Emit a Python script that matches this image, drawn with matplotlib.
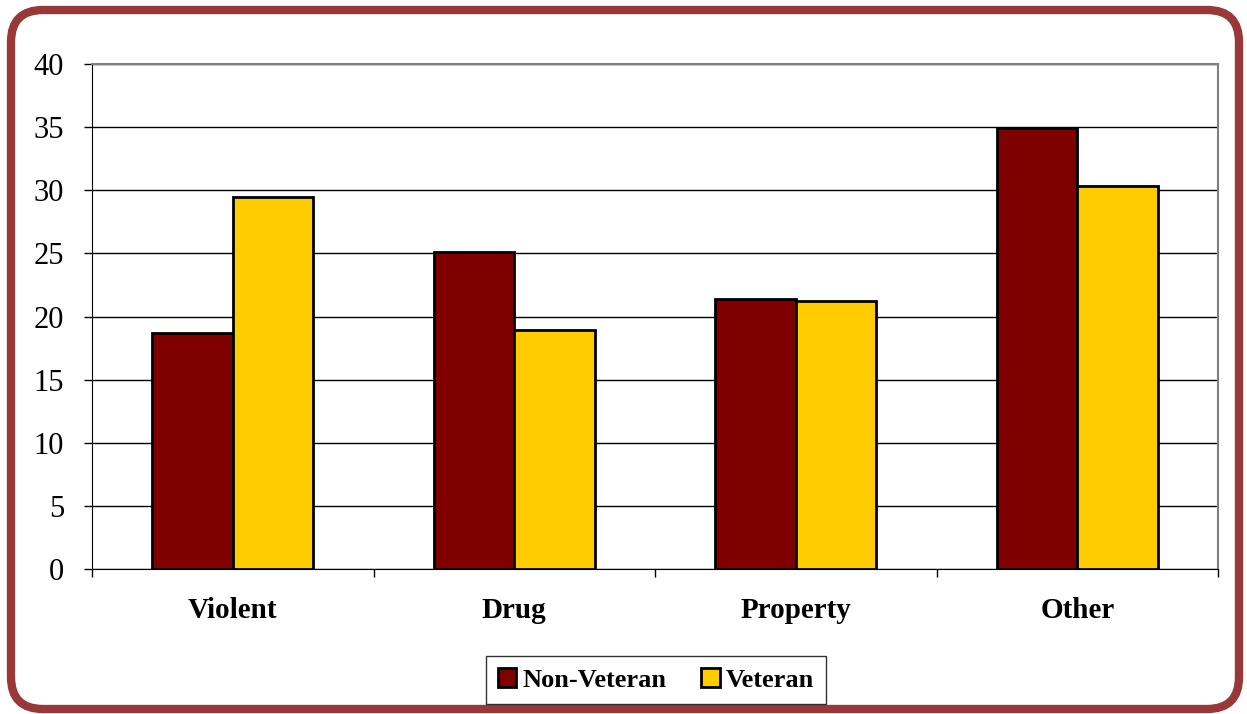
import numpy as np
import matplotlib
matplotlib.use("Agg")
from matplotlib import pyplot as plt
from matplotlib.patches import FancyBboxPatch

categories = ["Violent", "Drug", "Property", "Other"]
non_veteran = [18.7, 25.1, 21.4, 34.9]
veteran = [29.5, 18.9, 21.2, 30.3]
series_names = ["Non-Veteran", "Veteran"]

plt.rcParams['font.family'] = ['Liberation Serif', 'DejaVu Serif']

W, H = 1247, 714
fig = plt.figure(figsize=(W / 100, H / 100), dpi=100)
ax = fig.add_axes([92 / W, 1 - 569 / H, (1218 - 92) / W, (569 - 64) / H])

x = np.arange(len(categories))
bw = 0.286
ax.bar(x - bw / 2, non_veteran, bw, color="#800000", edgecolor="black", linewidth=2,
       label=series_names[0], zorder=3)
ax.bar(x + bw / 2, veteran, bw, color="#FFCC00", edgecolor="black", linewidth=2,
       label=series_names[1], zorder=3)

ax.set_xlim(-0.5, len(categories) - 0.5)
ax.set_ylim(0, 40)
ax.set_yticks(range(0, 41, 5))
ax.yaxis.grid(True, color="black", linewidth=1, zorder=0)
ax.set_axisbelow(True)

# category separators as ticks
ax.set_xticks(np.arange(-0.5, len(categories), 1))
ax.set_xticklabels([])
ax.set_xticks(x, minor=True)
ax.set_xticklabels(categories, minor=True, fontsize=21, fontweight="bold")
ax.tick_params(axis="x", which="minor", length=0, pad=20)
ax.tick_params(axis="x", which="major", length=6, width=1, color="black")
ax.tick_params(axis="y", labelsize=22, length=6, width=1, pad=14)

for s in ["top", "right"]:
    ax.spines[s].set_color("#808080")
    ax.spines[s].set_linewidth(1.5)
ax.spines["left"].set_color("black")
ax.spines["bottom"].set_color("black")

leg = fig.legend(*ax.get_legend_handles_labels(), loc="center",
                 bbox_to_anchor=(656 / W, 1 - 680 / H), ncol=2,
                 frameon=True, fancybox=False, edgecolor="black",
                 prop={"size": 19, "weight": "bold"},
                 handlelength=0.7, handleheight=0.7, handletextpad=0.25,
                 columnspacing=1.3, borderpad=0.45, borderaxespad=0)
leg.get_frame().set_linewidth(1)

border = FancyBboxPatch((11 / W, 5 / H), 1228 / W, 699 / H,
                        boxstyle="round,pad=0,rounding_size=%f" % (32 / W),
                        transform=fig.transFigure, facecolor="none",
                        edgecolor="#983838", linewidth=6, mutation_aspect=W / H)
fig.patches.append(border)

fig.savefig("out.png", dpi=100)
